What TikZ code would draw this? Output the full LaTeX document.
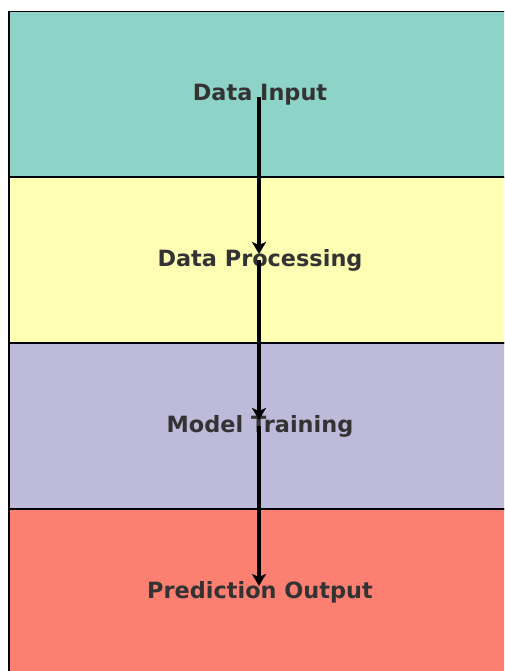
\documentclass[tikz,border=0pt]{standalone}
\usepackage{fontspec}
\setmainfont{DejaVu Sans}
\usetikzlibrary{arrows.meta}
\definecolor{cA}{HTML}{8DD3C7}
\definecolor{cB}{HTML}{FFFFB3}
\definecolor{cC}{HTML}{BEBADA}
\definecolor{cD}{HTML}{FB8072}
\definecolor{txt}{HTML}{333333}
\tikzset{
  band/.style={draw=black, line width=1.5pt, rectangle, minimum width=502pt, minimum height=166pt,
    inner sep=0pt, text=txt, font=\fontsize{22.4}{26}\selectfont\bfseries},
  flow/.style={line width=3.2pt, -{Stealth[length=12pt,width=14pt,inset=3pt]}, shorten >=6pt}
}
\begin{document}
\begin{tikzpicture}[x=1pt,y=1pt]
\useasboundingbox (0,0) rectangle (504,-671);
\clip (0,0) rectangle (504,-671);
\fill[white] (0,0) rectangle (504,-671);
\node[band, fill=cA] (b1) at (260,-94.5) {Data Input};
\node[band, fill=cB] (b2) at (260,-260) {Data Processing};
\node[band, fill=cC] (b3) at (260,-426) {Model Training};
\node[band, fill=cD] (b4) at (260,-592) {Prediction Output};
\draw[flow] ([xshift=-1pt,yshift=-3pt]b1.center) -- ([xshift=-1pt]b2.center);
\draw[flow] ([xshift=-1pt]b2.center) -- ([xshift=-1pt]b3.center);
\draw[flow] ([xshift=-1pt]b3.center) -- ([xshift=-1pt]b4.center);
\end{tikzpicture}
\end{document}
